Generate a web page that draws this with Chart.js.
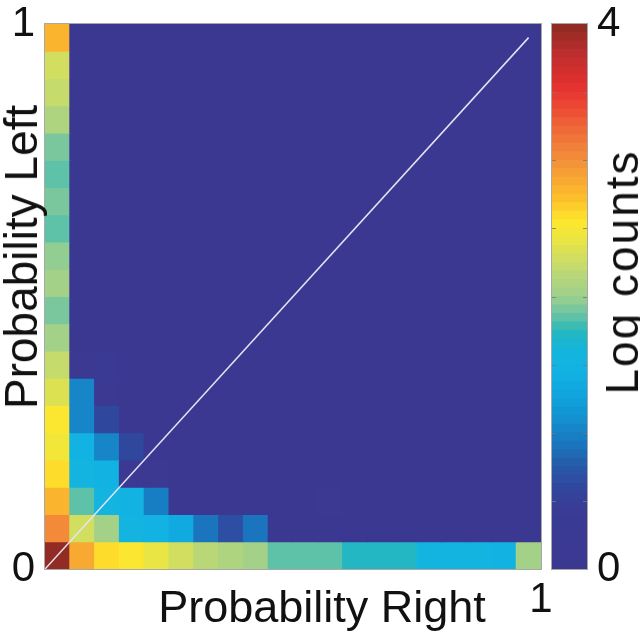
<!DOCTYPE html>
<html>
<head>
<meta charset="utf-8">
<title>Probability Left vs Right</title>
<script src="https://cdn.jsdelivr.net/npm/chart.js@4.4.0/dist/chart.umd.min.js"></script>
<style>
  html, body { margin: 0; padding: 0; background: #fff; }
  #wrap { position: relative; width: 640px; height: 637px; overflow: hidden; }
  #wrap canvas { position: absolute; left: 0; top: 0; }
  .lbl {
    position: absolute;
    font-family: "Liberation Sans", Arial, sans-serif; color: #111;
    white-space: nowrap; line-height: 1;
  }
  #xLabel { left: 322px; top: 606px; font-size: 45px; transform: translate(-50%, -50%); }
  #yLabel { left: 21px; top: 257px; font-size: 46px; transform: translate(-50%, -50%) rotate(-90deg); }
  #cbLabel { left: 622px; top: 272px; font-size: 46px; letter-spacing: 2px; transform: translate(-50%, -50%) rotate(-90deg); }
</style>
</head>
<body>
<div id="wrap">
  <canvas id="heatmap" width="640" height="637"></canvas>
  <canvas id="colorbar" width="640" height="637"></canvas>
  <div class="lbl" id="xLabel">Probability Right</div>
  <div class="lbl" id="yLabel">Probability Left</div>
  <div class="lbl" id="cbLabel">Log counts</div>
</div>
<script>
// bin edges on both probability axes
const probBins = [0, 0.05, 0.1, 0.15, 0.2, 0.25, 0.3, 0.35, 0.4, 0.45, 0.5,
                  0.55, 0.6, 0.65, 0.7, 0.75, 0.8, 0.85, 0.9, 0.95, 1];

// log counts, one row per "Probability Left" bin, top row first
const logCounts = [
  [2.75, 0, 0, 0, 0, 0, 0, 0, 0, 0, 0, 0, 0, 0, 0, 0, 0, 0, 0, 0],
  [2.3, 0, 0, 0, 0, 0, 0, 0, 0, 0, 0, 0, 0, 0, 0, 0, 0, 0, 0, 0],
  [2.2, 0, 0, 0, 0, 0, 0, 0, 0, 0, 0, 0, 0, 0, 0, 0, 0, 0, 0, 0],
  [2.1, 0, 0, 0, 0, 0, 0, 0, 0, 0, 0, 0, 0, 0, 0, 0, 0, 0, 0, 0],
  [1.9, 0, 0, 0, 0, 0, 0, 0, 0, 0, 0, 0, 0, 0, 0, 0, 0, 0, 0, 0],
  [1.85, 0, 0, 0, 0, 0, 0, 0, 0, 0, 0, 0, 0, 0, 0, 0, 0, 0, 0, 0],
  [1.93, 0, 0, 0, 0, 0, 0, 0, 0, 0, 0, 0, 0, 0, 0, 0, 0, 0, 0, 0],
  [1.85, 0, 0, 0, 0, 0, 0, 0, 0, 0, 0, 0, 0, 0, 0, 0, 0, 0, 0, 0],
  [1.95, 0, 0, 0, 0, 0, 0, 0, 0, 0, 0, 0, 0, 0, 0, 0, 0, 0, 0, 0],
  [2.0, 0, 0, 0, 0, 0, 0, 0, 0, 0, 0, 0, 0, 0, 0, 0, 0, 0, 0, 0],
  [1.93, 0, 0, 0, 0, 0, 0, 0, 0, 0, 0, 0, 0, 0, 0, 0, 0, 0, 0, 0],
  [2.02, 0, 0, 0, 0, 0, 0, 0, 0, 0, 0, 0, 0, 0, 0, 0, 0, 0, 0, 0],
  [2.2, 0.1, 0.15, 0, 0, 0, 0, 0, 0, 0, 0, 0, 0, 0, 0, 0, 0, 0, 0, 0],
  [2.35, 1.05, 0.1, 0, 0, 0, 0, 0, 0, 0, 0, 0, 0, 0, 0, 0, 0, 0, 0, 0],
  [2.5, 1.05, 0.6, 0.05, 0, 0, 0, 0, 0, 0, 0, 0, 0, 0, 0, 0, 0, 0, 0, 0],
  [2.48, 1.47, 1.05, 0.62, 0, 0, 0, 0, 0, 0, 0, 0, 0, 0, 0, 0, 0, 0, 0, 0],
  [2.62, 1.5, 1.45, 0.1, 0.1, 0, 0, 0, 0, 0, 0, 0, 0, 0, 0, 0, 0, 0, 0, 0],
  [2.8, 1.82, 1.5, 1.45, 0.95, 0, 0, 0, 0, 0, 0, 0.12, 0, 0, 0, 0, 0, 0, 0, 0],
  [3.0, 2.25, 2.0, 1.5, 1.48, 1.35, 0.9, 0.65, 0.9, 0, 0, 0, 0, 0, 0, 0, 0, 0, 0, 0],
  [3.95, 2.85, 2.62, 2.5, 2.4, 2.3, 2.15, 2.1, 2.03, 1.85, 1.83, 1.82, 1.7, 1.73, 1.7, 1.5, 1.52, 1.5, 1.48, 2.05]
];

// the white diagonal
const diagX = [0, 0.975];
const diagY = [0, 0.975];

// axis tick labels
const probTicks = [0, 1];
const colorTicks = [0, 4];

// colour scale (jet-like, 64 steps as in the printed colorbar)
const colorMax = 4;
const colorSteps = 64;
const colorStops = [
  [0.0, '#3b3892'], [0.45, '#393b94'], [0.6, '#30489e'], [0.75, '#2759a8'],
  [0.9, '#1a74bd'], [1.05, '#1589cb'], [1.25, '#10a3dd'], [1.45, '#12b2e4'],
  [1.6, '#14b5dc'], [1.7, '#1cb5c8'], [1.78, '#3abcb3'], [1.88, '#72c5a2'],
  [2.0, '#9dd08c'], [2.15, '#b8d778'], [2.3, '#d4df5b'], [2.45, '#f0e73c'],
  [2.55, '#fde72c'], [2.7, '#fcc22a'], [2.85, '#f8a832'], [3.0, '#f28f3a'],
  [3.2, '#ef6e39'], [3.4, '#ec4634'], [3.55, '#e3302f'], [3.75, '#c22f2e'],
  [4.0, '#8b2a22']
];

function hexRgb(h) {
  return [parseInt(h.slice(1, 3), 16), parseInt(h.slice(3, 5), 16), parseInt(h.slice(5, 7), 16)];
}

function interpColor(v) {
  for (let i = 1; i < colorStops.length; i++) {
    const [v1, c1] = colorStops[i];
    if (v <= v1) {
      const [v0, c0] = colorStops[i - 1];
      const t = (v - v0) / (v1 - v0);
      const a = hexRgb(c0), b = hexRgb(c1);
      const rgb = a.map((x, k) => Math.round(x + (b[k] - x) * t));
      return `rgb(${rgb[0]},${rgb[1]},${rgb[2]})`;
    }
  }
  return colorStops[colorStops.length - 1][1];
}

function stepColor(k) {
  return interpColor((k + 0.5) / colorSteps * colorMax);
}

function colorFor(v) {
  const k = Math.min(colorSteps - 1, Math.max(0, Math.floor(v / colorMax * colorSteps)));
  return stepColor(k);
}

const FONT = '"Liberation Sans", Arial, sans-serif';

// keep the tick labels from pushing the plot area around
function noLabelPadding(s) {
  s.paddingTop = 0;
  s.paddingBottom = 0;
  s.paddingLeft = 0;
  s.paddingRight = 0;
}

// thin grey frame round the plot area
const framePlugin = {
  id: 'frame',
  afterDraw(chart) {
    const { ctx, chartArea: a } = chart;
    ctx.save();
    ctx.strokeStyle = '#a8a8a8';
    ctx.lineWidth = 1;
    ctx.strokeRect(Math.round(a.left) - 0.5, Math.round(a.top) - 0.5,
      Math.round(a.right - a.left) + 1, Math.round(a.bottom - a.top) + 1);
    ctx.restore();
  }
};

// small inward tick marks on both sides of the colorbar
const cbTicksPlugin = {
  id: 'cbTicks',
  afterDatasetsDraw(chart) {
    const { ctx, chartArea: a, scales } = chart;
    ctx.save();
    ctx.strokeStyle = 'rgba(120,120,120,0.8)';
    ctx.lineWidth = 1;
    for (let v = 0.5; v < colorMax; v += 0.5) {
      const y = Math.round(scales.y.getPixelForValue(v)) + 0.5;
      ctx.beginPath();
      ctx.moveTo(a.left, y); ctx.lineTo(a.left + 4, y);
      ctx.moveTo(a.right - 4, y); ctx.lineTo(a.right, y);
      ctx.stroke();
    }
    ctx.restore();
  }
};

// one bar dataset per row of cells
const nBins = probBins.length - 1;
const cellSets = logCounts.map((row, r) => {
  const j = nBins - 1 - r;
  return {
    type: 'bar',
    order: 1,
    grouped: false,
    barPercentage: 1,
    categoryPercentage: 1,
    borderWidth: 0,
    inflateAmount: 0.5,
    data: row.map((v, i) => ({ x: (probBins[i] + probBins[i + 1]) / 2, y: [probBins[j], probBins[j + 1]] })),
    backgroundColor: row.map(colorFor)
  };
});

new Chart(document.getElementById('heatmap'), {
  type: 'bar',
  data: {
    datasets: [
      {
        type: 'line',
        order: 0,
        data: diagX.map((x, i) => ({ x, y: diagY[i] })),
        borderColor: '#e6e3f4',
        borderWidth: 1.5,
        pointRadius: 0
      },
      ...cellSets
    ]
  },
  options: {
    responsive: false,
    animation: false,
    layout: { autoPadding: false, padding: { top: 24, right: 99, left: 0, bottom: 0 } },
    plugins: { legend: { display: false }, tooltip: { enabled: false } },
    scales: {
      x: {
        type: 'linear',
        offset: false,
        min: 0,
        max: 1,
        afterBuildTicks: s => { s.ticks = probTicks.map(v => ({ value: v })); },
        ticks: {
          callback: v => (v === 0 ? '' : String(v)),
          font: { family: FONT, size: 42 },
          color: '#111',
          padding: 6,
          maxRotation: 0
        },
        grid: { display: false, drawTicks: false },
        border: { display: false },
        afterFit: s => { noLabelPadding(s); s.height = 68; }
      },
      y: {
        type: 'linear',
        min: 0,
        max: 1,
        afterBuildTicks: s => { s.ticks = probTicks.map(v => ({ value: v })); },
        ticks: {
          font: { family: FONT, size: 42 },
          color: '#111',
          padding: 10
        },
        grid: { display: false, drawTicks: false },
        border: { display: false },
        afterFit: s => { noLabelPadding(s); s.width = 45; }
      }
    }
  },
  plugins: [framePlugin]
});

// colorbar
const levelSets = [];
for (let k = 0; k < colorSteps; k++) {
  levelSets.push({
    grouped: false,
    barPercentage: 1,
    categoryPercentage: 1,
    borderWidth: 0,
    inflateAmount: 0.5,
    data: [[k * colorMax / colorSteps, (k + 1) * colorMax / colorSteps]],
    backgroundColor: stepColor(k)
  });
}

new Chart(document.getElementById('colorbar'), {
  type: 'bar',
  data: { labels: ['Log counts'], datasets: levelSets },
  options: {
    responsive: false,
    animation: false,
    layout: { autoPadding: false, padding: { top: 24, left: 552, right: 0, bottom: 68 } },
    plugins: { legend: { display: false }, tooltip: { enabled: false } },
    scales: {
      x: { display: false },
      y: {
        position: 'right',
        min: 0,
        max: colorMax,
        afterBuildTicks: s => { s.ticks = colorTicks.map(v => ({ value: v })); },
        ticks: {
          font: { family: FONT, size: 42 },
          color: '#111',
          padding: 10
        },
        grid: { display: false, drawTicks: false },
        border: { display: false },
        afterFit: s => { noLabelPadding(s); s.width = 53; }
      }
    }
  },
  plugins: [cbTicksPlugin, framePlugin]
});
</script>
</body>
</html>
